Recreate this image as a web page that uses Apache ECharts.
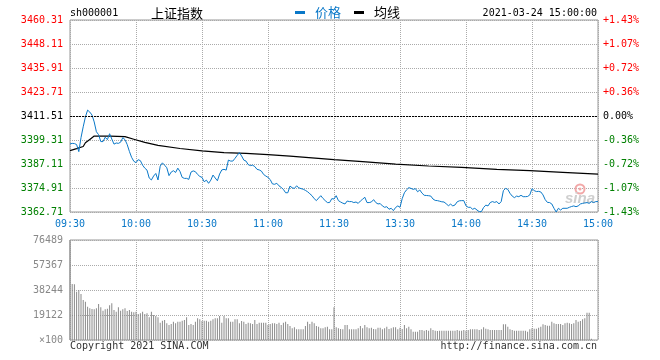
<!DOCTYPE html>
<html>
<head>
<meta charset="utf-8">
<script src="https://cdn.jsdelivr.net/npm/echarts@6/dist/echarts.min.js"></script>
<style>
html,body{margin:0;padding:0;background:#fff;}
#c{width:660px;height:360px;}
</style>
</head>
<body>
<div id="c"></div>
<script>
// ---------- data ----------
const prevClose = 3411.51;
const priceTicks = ['3362.71','3374.91','3387.11','3399.31','3411.51','3423.71','3435.91','3448.11','3460.31'];
const pctTicks   = ['-1.43%','-1.07%','-0.72%','-0.36%','0.00%','+0.36%','+0.72%','+1.07%','+1.43%'];
const volTicks   = ['×100','19122','38244','57367','76489'];
const timeTicks  = ['09:30','10:00','10:30','11:00','11:30','13:30','14:00','14:30','15:00'];

// minute-by-minute index price (241 points: 09:30-11:30, 13:01-15:00)
const prices = [
 3397.3,3397.6,3397.5,3397.0,3393.4,3400.5,3406.0,3411.0,3414.5,3413.5,
 3412.0,3408.5,3403.5,3402.0,3398.5,3398.5,3400.7,3399.5,3402.5,3399.8,
 3397.2,3397.8,3397.6,3398.2,3400.5,3399.5,3397.0,3393.5,3390.5,3388.5,
 3387.8,3389.3,3388.8,3386.5,3385.0,3384.0,3380.0,3379.0,3381.0,3382.3,
 3379.0,3386.0,3387.7,3386.5,3385.2,3381.2,3383.0,3383.7,3382.8,3385.0,
 3383.3,3380.3,3379.8,3379.8,3379.3,3383.0,3383.6,3383.2,3381.8,3380.8,
 3380.3,3378.1,3378.9,3377.3,3378.9,3381.5,3380.0,3378.6,3382.0,3384.1,
 3384.4,3384.0,3389.1,3388.6,3388.6,3390.0,3391.5,3392.9,3391.2,3389.1,
 3388.6,3386.8,3386.3,3386.5,3385.8,3384.4,3384.1,3383.5,3381.8,3381.0,
 3380.3,3379.2,3377.0,3376.8,3377.3,3376.0,3375.2,3374.2,3372.5,3372.5,
 3375.9,3375.0,3374.7,3376.0,3375.0,3374.6,3374.3,3373.7,3373.0,3372.0,
 3371.0,3369.5,3368.5,3369.8,3371.0,3369.6,3368.5,3367.5,3367.5,3369.5,
 3369.3,3371.0,3368.5,3367.8,3367.2,3366.8,3368.3,3368.0,3368.0,3367.5,
 3367.8,3367.1,3368.3,3369.2,3370.2,3367.5,3367.5,3367.8,3369.0,3367.5,
 3366.8,3367.0,3365.8,3365.1,3365.4,3364.1,3364.6,3363.4,3365.0,3365.8,
 3365.1,3369.5,3372.5,3374.0,3375.1,3374.7,3374.2,3374.6,3373.0,3373.9,
 3372.3,3371.2,3371.1,3371.0,3370.8,3369.3,3368.6,3368.5,3368.2,3367.9,
 3367.8,3366.9,3365.9,3366.7,3365.8,3366.3,3367.9,3368.4,3368.5,3368.5,
 3365.8,3365.1,3365.1,3364.1,3364.6,3363.7,3362.9,3362.9,3365.0,3366.2,
 3365.8,3367.5,3368.0,3367.6,3368.0,3366.8,3368.0,3373.6,3374.7,3374.2,
 3372.2,3370.8,3370.0,3370.8,3370.5,3371.2,3370.5,3370.5,3370.6,3371.4,
 3374.6,3373.6,3373.1,3373.2,3372.9,3371.4,3369.0,3367.6,3367.5,3366.8,
 3364.6,3362.7,3364.6,3363.7,3364.6,3364.6,3364.6,3365.1,3365.5,3365.8,
 3365.4,3365.8,3366.8,3367.1,3367.3,3367.5,3367.1,3368.0,3367.5,3368.0,
 3368.0
];

// average price line, read at [minute index, value]
const avgLine = [
 [0,3393.9],[3,3394.9],[6,3396.0],[7,3397.9],[9,3399.6],[11,3401.3],[18,3401.3],
 [25,3401.0],[29,3399.7],[34,3398.1],[40,3396.6],[50,3395.0],[60,3393.8],[70,3392.9],
 [80,3392.5],[90,3391.9],[100,3391.1],[110,3390.2],[120,3389.3],[133,3388.3],[148,3387.0],
 [163,3386.1],[178,3385.4],[194,3384.4],[209,3383.7],[224,3382.9],[240,3382.0]
];

// volume per minute (x100 shares)
const volumes = [
 76489,42834,42579,36970,38244,35185,30596,29321,25496,24222,
 23712,23457,24222,27536,24987,22437,23457,23967,26516,28046,
 22947,21672,24987,22437,23457,24222,22182,22947,21672,21162,
 21672,19887,20397,21672,19887,20397,17338,21672,19122,18357,
 17338,13258,14788,15298,12748,11473,12238,14023,12748,14023,
 14023,14788,15298,17338,11473,12238,11473,14023,16573,15808,
 14533,14788,14788,14023,14788,15808,16573,16573,18357,13258,
 18357,16573,16573,14023,14023,15808,15808,12748,14533,14023,
 12238,13258,12748,12238,15298,12238,13258,13258,13258,13258,
 11473,12238,12748,12748,12238,13258,11473,13258,14023,12238,
 10708,8923,9688,8158,8158,8158,8158,10708,14023,12238,
 14023,12748,10708,10198,8923,8923,9688,10198,8158,8158,
 24987,9688,8923,8413,8158,11473,11473,8158,8158,8158,
 8158,8923,10708,8923,11473,9688,8923,9433,8413,8158,
 9433,9433,8158,8923,10198,8413,8923,9688,9688,8158,
 9433,8413,11473,8923,10198,8158,6374,6374,6374,7649,
 7649,7139,7649,7139,8923,7649,7139,6884,7139,7139,
 7139,7139,7139,7139,7139,7139,7649,7139,7139,7649,
 7139,7649,8158,8158,8158,8158,7649,8158,9688,8668,
 8158,7649,7649,7649,7649,7649,7649,11983,11983,10198,
 8158,7649,7139,7139,7139,7139,7139,7139,6374,8158,
 8923,8668,8668,9433,10198,11983,11473,10963,10963,14023,
 12748,12238,12238,12238,11473,12748,13258,12748,12238,12748,
 15298,14023,14533,15808,16573,20907,20907,1020,0,0,
 0
];

// ---------- categories (minute labels) ----------
const minutes = [];
(function(){
  function fmt(h,m){return (h<10?'0':'')+h+':'+(m<10?'0':'')+m;}
  for (let t = 9*60+30; t <= 11*60+30; t++) minutes.push(fmt(Math.floor(t/60), t%60));
  for (let t = 13*60+1; t <= 15*60; t++) minutes.push(fmt(Math.floor(t/60), t%60));
})();

const PRICE_MIN = 3362.71, PRICE_MAX = 3460.31, PRICE_STEP = 12.2;
const VOL_MAX = 76489, VOL_STEP = 19122.25;

const BLUE = '#0a78c8';
const RED = '#ff0000';
const GREEN = '#008000';
const MONO = '"DejaVu Sans Mono", "Liberation Mono", monospace';
const CJK = '"Noto Sans CJK SC", sans-serif';
const GRIDCOL = '#aaaaaa';

const every30 = function(idx){ return idx % 30 === 0; };
function priceIdx(v){ return Math.round((Number(v) - PRICE_MIN) / PRICE_STEP); }

const chart = echarts.init(document.getElementById('c'), null, {renderer:'canvas'});

const option = {
  animation: false,
  backgroundColor: '#ffffff',
  grid: [
    {left:70, right:62, top:20, height:192, show:true, borderColor:'#999', borderWidth:1, backgroundColor:'transparent', outerBoundsMode:'none'},
    {left:70, right:62, top:240, height:100, show:true, borderColor:'#999', borderWidth:1, backgroundColor:'transparent', outerBoundsMode:'none'}
  ],
  legend: {
    data: [{name:'价格', textStyle:{color:BLUE}}, {name:'均线', textStyle:{color:'#000'}}],
    left: 295, top: 6, padding: 0,
    icon: 'rect', itemWidth: 10, itemHeight: 3, itemGap: 13,
    selectedMode: false,
    textStyle: {fontFamily: CJK, fontSize: 13, color:'#000', padding:[0,0,0,5]}
  },
  xAxis: [
    {
      type:'category', gridIndex:0, data: minutes, boundaryGap:false,
      axisLine:{show:false}, axisTick:{show:false},
      axisLabel:{
        interval: every30, color: BLUE, fontFamily: MONO, fontSize: 10, margin: 7,
        formatter: function(v, i){ return timeTicks[Math.round(i/30)]; }
      },
      splitLine:{show:true, interval: every30, lineStyle:{color:GRIDCOL, type:[1,1], width:1}}
    },
    {
      type:'category', gridIndex:1, data: minutes, boundaryGap:false,
      axisLine:{show:false}, axisTick:{show:false}, axisLabel:{show:false},
      splitLine:{show:true, interval: every30, lineStyle:{color:GRIDCOL, type:[1,1], width:1}}
    }
  ],
  yAxis: [
    {
      type:'value', gridIndex:0, min:PRICE_MIN, max:PRICE_MAX, interval:PRICE_STEP, position:'left',
      axisLine:{show:false}, axisTick:{show:false},
      axisLabel:{
        fontFamily: MONO, fontSize: 10, margin: 7,
        formatter: function(v){ return priceTicks[priceIdx(v)]; },
        color: function(v){ const k = priceIdx(v); return k > 4 ? RED : (k === 4 ? '#000' : GREEN); }
      },
      splitLine:{show:true, lineStyle:{color:GRIDCOL, type:[1,1], width:1}}
    },
    {
      type:'value', gridIndex:0, min:PRICE_MIN, max:PRICE_MAX, interval:PRICE_STEP, position:'right',
      axisLine:{show:false}, axisTick:{show:false}, splitLine:{show:false},
      axisLabel:{
        fontFamily: MONO, fontSize: 10, margin: 5,
        formatter: function(v){ return pctTicks[priceIdx(v)]; },
        color: function(v){ const k = priceIdx(v); return k > 4 ? RED : (k === 4 ? '#000' : GREEN); }
      }
    },
    {
      type:'value', gridIndex:1, min:0, max:VOL_MAX, interval:VOL_STEP, position:'left',
      axisLine:{show:false}, axisTick:{show:false},
      axisLabel:{
        fontFamily: MONO, fontSize: 10, margin: 7, color:'#888',
        formatter: function(v){ return volTicks[Math.round(Number(v)/VOL_STEP)]; }
      },
      splitLine:{show:true, lineStyle:{color:GRIDCOL, type:[1,1], width:1}}
    }
  ],
  series: [
    {
      name:'价格', type:'line', xAxisIndex:0, yAxisIndex:0, data: prices,
      showSymbol:false, symbol:'none', z:4,
      itemStyle:{color:BLUE}, lineStyle:{color:BLUE, width:1},
      markLine:{
        silent:true, symbol:['none','none'], label:{show:false},
        lineStyle:{color:'#000', type:[2,1], width:1},
        data:[{yAxis: prevClose}]
      }
    },
    {
      name:'均线', type:'line', xAxisIndex:0, yAxisIndex:0, data: avgLine,
      showSymbol:false, symbol:'none', z:3,
      itemStyle:{color:'#000'}, lineStyle:{color:'#000', width:1.2}
    },
    {
      name:'成交量', type:'bar', xAxisIndex:1, yAxisIndex:2, data: volumes,
      barWidth:1, clip:false, itemStyle:{color:'#8a8a8a'}, z:2
    }
  ],
  graphic: [
    {type:'text', x:70, y:13, style:{text:'sh000001', font:'10px '+MONO, fill:'#000', textVerticalAlign:'middle', verticalAlign:'middle'}},
    {type:'text', x:151, y:13, style:{text:'上证指数', font:'13px '+CJK, fill:'#000', textVerticalAlign:'middle', verticalAlign:'middle'}},
    {type:'text', x:597, y:13, style:{text:'2021-03-24 15:00:00', font:'10px '+MONO, fill:'#000', textAlign:'right', align:'right', textVerticalAlign:'middle', verticalAlign:'middle'}},
    {type:'text', x:70, y:346.5, style:{text:'Copyright 2021 SINA.COM', font:'10px '+MONO, fill:'#333', textVerticalAlign:'middle', verticalAlign:'middle'}},
    {type:'text', x:597, y:346.5, style:{text:'http://finance.sina.com.cn', font:'10px '+MONO, fill:'#333', textAlign:'right', align:'right', textVerticalAlign:'middle', verticalAlign:'middle'}},
    {type:'circle', shape:{cx:580, cy:189, r:4.5}, style:{fill:'none', stroke:'#f2a8a8', lineWidth:2}, z:1},
    {type:'circle', shape:{cx:580, cy:189, r:1.5}, style:{fill:'#f2a8a8'}, z:1},
    {type:'text', x:580, y:199, style:{text:'sina', font:'italic bold 15px "Liberation Sans", sans-serif', fill:'#cfcfcf', textAlign:'center', align:'center', textVerticalAlign:'middle', verticalAlign:'middle'}, z:1}
  ]
};

chart.setOption(option);
</script>
</body>
</html>
